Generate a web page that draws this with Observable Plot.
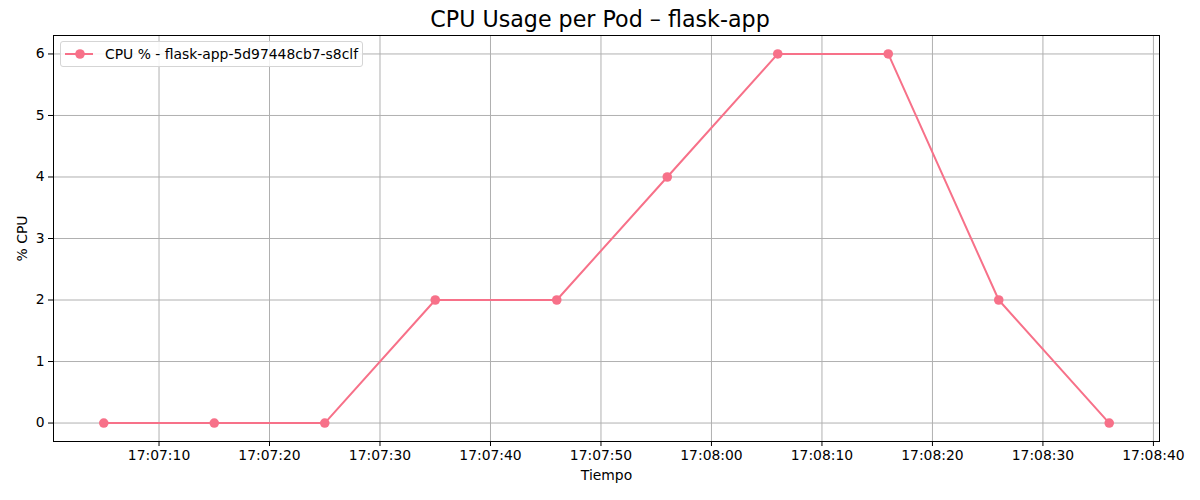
<!DOCTYPE html>
<html>
<head>
<meta charset="utf-8">
<script src="https://cdn.jsdelivr.net/npm/d3@7"></script>
<script src="https://cdn.jsdelivr.net/npm/@observablehq/plot@0.6"></script>
<style>
  html, body { margin: 0; padding: 0; background: #fff; }
  #wrap { position: relative; width: 1200px; height: 500px; font-family: "DejaVu Sans", sans-serif; }
  #title { height: 30px; line-height: 38px; text-align: center; font-size: 22.2px; color: #000; }
  #legend { position: absolute; left: 60px; top: 41px; width: 303px; height: 26px; box-sizing: border-box;
            border: 1px solid #d5d5d5; border-radius: 3px; background: rgba(255,255,255,0.85); }
  #legend svg { position: absolute; left: 0; top: 0; }
  #legend span { position: absolute; left: 44px; top: 4px; font-size: 13.9px; line-height: 16px; color: #000; white-space: nowrap; }
</style>
</head>
<body>
<div id="wrap">
  <div id="title">CPU Usage per Pod – flask-app</div>
  <div id="chart"></div>
  <div id="legend">
    <svg width="40" height="25"><line x1="4" x2="32" y1="12" y2="12" stroke="#f77189" stroke-width="2"/><circle cx="19" cy="12" r="4.8" fill="#f77189"/></svg>
    <span id="legendText"></span>
  </div>
</div>
<script>
const seriesName = "CPU % - flask-app-5d97448cb7-s8clf";
const times = ["17:07:05","17:07:15","17:07:25","17:07:35","17:07:46","17:07:56","17:08:06","17:08:16","17:08:26","17:08:36"];
const cpuValues = [0, 0, 0, 2, 2, 4, 6, 6, 2, 0];
const xTickLabels = ["17:07:10","17:07:20","17:07:30","17:07:40","17:07:50","17:08:00","17:08:10","17:08:20","17:08:30","17:08:40"];
const yTicks = [0, 1, 2, 3, 4, 5, 6];
const xDomainLabels = ["17:07:00.45", "17:08:40.55"];
const yDomain = [-0.3, 6.3];

const parseT = s => {
  const [h, m, sec] = s.split(":");
  return new Date(Date.UTC(2024, 0, 1, +h, +m, 0) + (+sec) * 1000);
};
const data = times.map((t, i) => ({t: parseT(t), v: cpuValues[i]}));
const xTicks = xTickLabels.map(parseT);
const color = "#f77189";
const grid = "#b0b0b0";

document.getElementById("legendText").textContent = seriesName;

const chart = Plot.plot({
  width: 1200,
  height: 470,
  marginTop: 5,
  marginBottom: 59,
  marginLeft: 53,
  marginRight: 41,
  style: {fontFamily: "DejaVu Sans, sans-serif", fontSize: "13.9px", color: "#000", background: "#fff"},
  x: {type: "utc", domain: xDomainLabels.map(parseT)},
  y: {domain: yDomain},
  marks: [
    Plot.gridX(xTicks, {stroke: grid, strokeOpacity: 1, strokeWidth: 1}),
    Plot.gridY(yTicks, {stroke: grid, strokeOpacity: 1, strokeWidth: 1}),
    Plot.line(data, {x: "t", y: "v", stroke: color, strokeWidth: 2}),
    Plot.dot(data, {x: "t", y: "v", fill: color, r: 4.8}),
    Plot.frame({stroke: "#000", strokeWidth: 1}),
    Plot.axisX(xTicks, {tickFormat: d3.utcFormat("%H:%M:%S"), tickSize: 5, tickPadding: 4,
      label: "Tiempo", labelAnchor: "center", labelOffset: 38, labelArrow: false}),
    Plot.axisY(yTicks, {tickSize: 5, tickPadding: 4, tickFormat: d => String(d),
      label: "% CPU", labelAnchor: "center", labelOffset: 36, labelArrow: false})
  ]
});
document.getElementById("chart").appendChild(chart);
</script>
</body>
</html>
